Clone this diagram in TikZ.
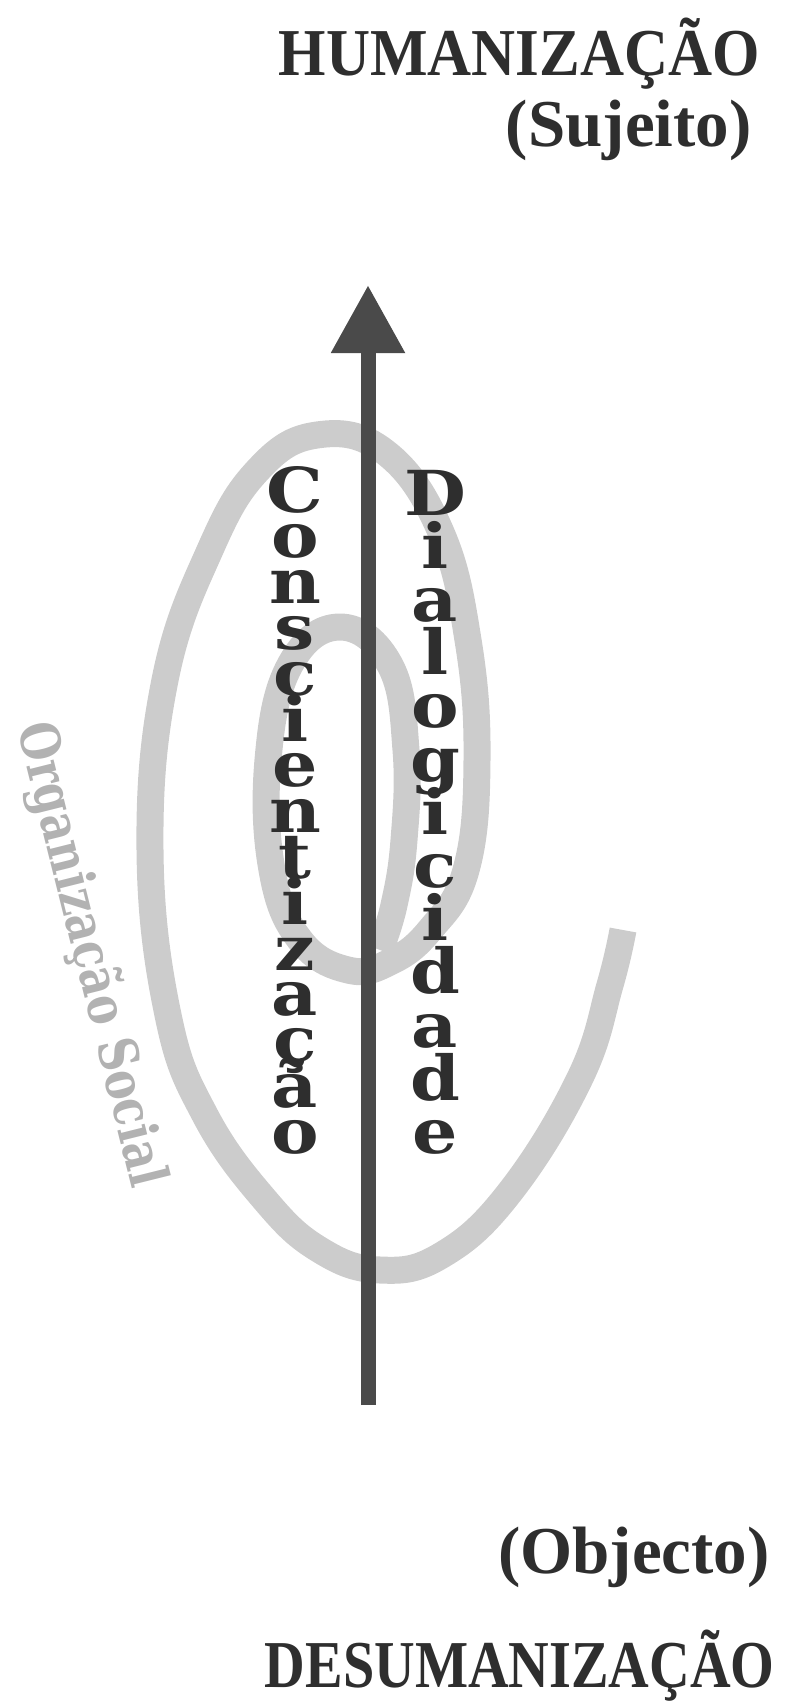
\documentclass[tikz,border=0pt]{standalone}
\usepackage{fontspec}
\setmainfont{Liberation Serif}
\newfontfamily\slabfont{DejaVu Serif}
\usepackage{tikz}
\usetikzlibrary{arrows.meta}
\definecolor{inkgrey}{gray}{0.18}
\definecolor{shaftgrey}{gray}{0.29}
\definecolor{swirlgrey}{gray}{0.80}
\definecolor{faintgrey}{gray}{0.70}
\newcommand\wideletter[1]{\scalebox{1.15}[1]{#1}}
\tikzset{
  title/.style={inner sep=0pt, text=inkgrey, font=\bfseries\fontsize{33.5}{40}\selectfont},
  colletter/.style={inner sep=0pt, anchor=base, text=inkgrey,
    font=\slabfont\bfseries\fontsize{31}{31}\selectfont},
  swirl/.style={line width=13.5pt, swirlgrey, line cap=butt, line join=round},
  axisarrow/.style={-{Triangle[length=34pt,width=35pt]}, line width=7.5pt, shaftgrey},
}

\begin{document}
\begin{tikzpicture}[x=0.5pt, y=0.5pt]
\useasboundingbox (0,0) rectangle (807,-1708);

% spiral behind everything
\draw[swirl] plot[smooth, tension=0.7] coordinates {
  (623,-930) (610,-985) (580,-1078) (510,-1192) (442,-1255) (380,-1270)
  (320,-1250) (265,-1200) (205,-1115) (168,-1015) (150,-850) (165,-680)
  (210,-550) (258,-470) (317,-435) (385,-452) (440,-530) (468,-640)
  (477,-760) (466,-870) (430,-930) (390,-962) (348,-970) (300,-940)
  (272,-870) (268,-760) (290,-665) (340,-627) (390,-665) (406,-750)
  (404,-840) (394,-905) (380,-950)};

\node[inner sep=0pt, rotate=-76, text=faintgrey,
  font=\slabfont\bfseries\fontsize{27}{27}\selectfont]
  (orgsocial) at (90,-955) {\scalebox{0.82}[1]{Organização Social}};

% vertical axis
\coordinate (foot) at (368,-1405);
\coordinate (tip) at (368,-285);
\draw[axisarrow] (foot) -- (tip);

\foreach \ch [count=\k from 0] in {C,o,n,s,c,i,e,n,t,i,z,a,ç,ã,o}
  \node[colletter] (consc\k) at (295,{-512-45.8*\k}) {\wideletter{\ch}};
\foreach \ch [count=\k from 0] in {D,i,a,l,o,g,i,c,i,d,a,d,e}
  \node[colletter] (dialog\k) at (435,{-515-53.2*\k}) {\wideletter{\ch}};

% poles
\node[title, anchor=base east] (human) at (760,-75) {\scalebox{0.91}[1]{HUMANIZAÇÃO}};
\node[title, anchor=base east] (sujeito) at (752,-146) {(Sujeito)};
\node[title, anchor=base east] (objecto) at (770,-1573) {(Objecto)};
\node[title, anchor=base east] (desuman) at (775,-1687) {\scalebox{0.84}[1]{DESUMANIZAÇÃO}};
\end{tikzpicture}
\end{document}
